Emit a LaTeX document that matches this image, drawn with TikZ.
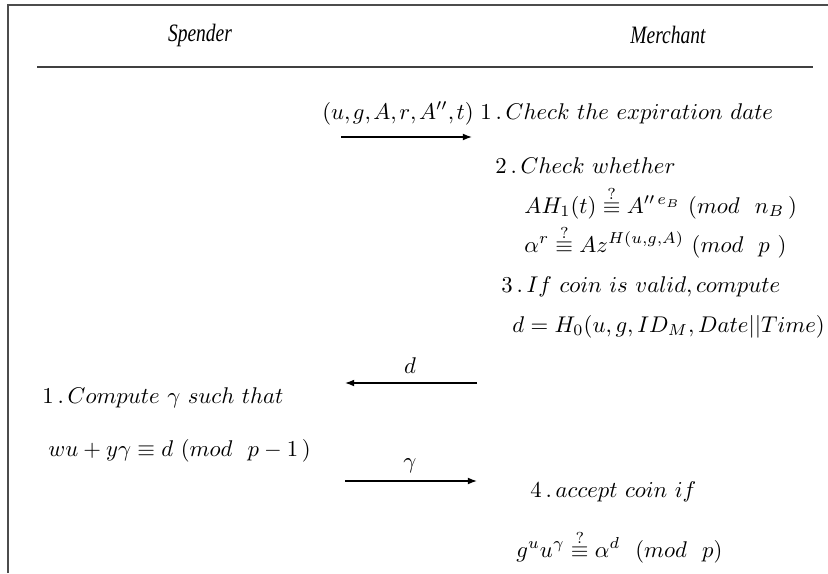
\documentclass[tikz,border=0pt]{standalone}
\usepackage{amsmath}
\usepackage{fontspec}
\newfontfamily\hdrfont[FakeStretch=0.78]{Liberation Serif}
\usetikzlibrary{arrows.meta}
\newcommand{\qeq}{\mathrel{\smash{\overset{\raisebox{-1pt}{$\scriptstyle ?$}}{\equiv}}}}
\begin{document}
\begin{tikzpicture}[x={(0.44pt,0)},y={(0,-0.44pt)},
  frameline/.style={draw=black!70,line width=0.9pt},
  rule/.style={draw=black!75,line width=0.7pt},
  msg/.style={draw=black,line width=0.6pt,-{Latex[length=4pt,width=3pt]}},
  hdr/.style={font=\hdrfont\itshape\fontsize{11}{13}\selectfont,inner sep=0pt},
  txt/.style={anchor=base west,inner sep=0pt},
  lbl/.style={anchor=base,inner sep=0pt}]
\useasboundingbox (0,0) rectangle (828,573);
\draw[frameline] (8,573) -- (8,5) -- (828,5);
\node[hdr] (spender) at (200,35) {Spender};
\node[hdr] (merchant) at (668,35) {Merchant};
\draw[rule] (37,67) -- (813,67);
% merchant column
\node[txt] (m1) at (480,119) {$1\,.\,Check\ the\ expiration\ date$};
\node[txt] (m2) at (495,173) {$2\,.\,Check\ whether$};
\node[txt] (m3) at (524,213) {$AH_1(t)\qeq A^{\prime\prime\,e_B}\ (mod\ \ n_B\,)$};
\node[txt] (m4) at (524,252) {$\alpha^r\qeq Az^{H(u,g,A)}\ (mod\ \ p\ )$};
\node[txt] (m5) at (501,292) {$3\,.\,If\ coin\ is\ valid, compute$};
\node[txt] (m6) at (512,332) {$d=H_0(u,g,ID_M,Date||Time)$};
\node[txt] (m7) at (530,497) {$4\,.\,accept\ coin\ if$};
\node[txt] (m8) at (516,557) {$g^uu^\gamma\qeq\alpha^d\ \ (mod\ \ p)$};
% spender column
\node[txt] (s1) at (42,403) {$1\,.\,Compute\ \gamma\ such\ that$};
\node[txt] (s2) at (48,456) {$wu+y\gamma\equiv d\ (mod\ \ p-1\,)$};
% messages
\node[lbl] (m1lab) at (398,119) {$(u{,}\mskip2mu g{,}\mskip2mu A{,}\mskip2mu r{,}\mskip2mu A^{\prime\prime}{,}\mskip2mu t)$};
\coordinate (a1s) at (341,137); \coordinate (a1e) at (472,137);
\draw[msg] (a1s) -- (a1e);
\node[lbl] (dlab) at (410,373) {$d$};
\coordinate (a2s) at (477,383); \coordinate (a2e) at (345,383);
\draw[msg] (a2s) -- (a2e);
\node[lbl] (glab) at (410,468) {$\gamma$};
\coordinate (a3s) at (345,481); \coordinate (a3e) at (477,481);
\draw[msg] (a3s) -- (a3e);
\end{tikzpicture}
\end{document}
